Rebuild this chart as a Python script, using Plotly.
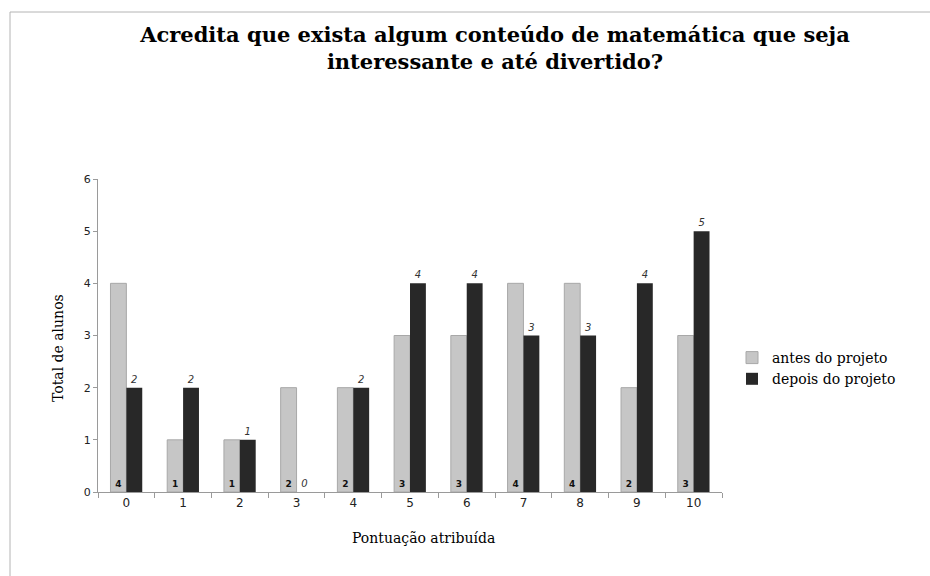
import plotly.graph_objects as go

# Pontuação (0–10) e número de alunos antes/depois do projeto
categorias = ["0", "1", "2", "3", "4", "5", "6", "7", "8", "9", "10"]
antes = [4, 1, 1, 2, 2, 3, 3, 4, 4, 2, 3]
depois = [2, 2, 1, 0, 2, 4, 4, 3, 3, 4, 5]
y_ticks = [0, 1, 2, 3, 4, 5, 6]

W, H = 930, 576
L, R, T, B = 98, 208, 179, 84

fig = go.Figure()

fig.add_trace(go.Bar(
    name="antes do projeto",
    x=categorias, y=antes,
    marker=dict(color="#c6c6c6", line=dict(color="#a8a8a8", width=1)),
    text=[str(v) for v in antes],
    textposition="inside", insidetextanchor="start",
    textfont=dict(family="DejaVu Sans", size=9, color="#111111", weight="bold"),
    textangle=0,
))
fig.add_trace(go.Bar(
    name="depois do projeto",
    x=categorias, y=depois,
    marker=dict(color="#282828", line=dict(width=0)),
    text=[str(v) for v in depois],
    textposition="outside",
    textfont=dict(family="DejaVu Sans", size=10, color="#333333", style="italic"),
    textangle=0, cliponaxis=False,
))

def px_x(px):
    return (px - L) / (W - L - R)

def px_y(py):
    return (H - B - py) / (H - T - B)

fig.update_layout(
    width=W, height=H,
    margin=dict(l=L, r=R, t=T, b=B),
    paper_bgcolor="white", plot_bgcolor="white",
    barmode="group", bargap=0.44, bargroupgap=0.0,
    title=dict(
        text="Acredita que exista algum conteúdo de matemática que seja<br>interessante e até divertido?",
        x=495 / W, xanchor="center", xref="container",
        y=1 - 42 / H, yanchor="top",
        font=dict(family="DejaVu Serif", size=21, color="#000000", weight="bold"),
    ),
    legend=dict(
        x=px_x(732), y=px_y(342), xanchor="left", yanchor="top",
        font=dict(family="DejaVu Serif", size=14, color="#000000"),
        itemwidth=30, tracegroupgap=0,
        bgcolor="rgba(0,0,0,0)",
    ),
    xaxis=dict(
        type="category",
        showline=True, linecolor="#9a9a9a", linewidth=1,
        ticks="outside", tickson="boundaries", ticklen=5, tickcolor="#9a9a9a",
        tickfont=dict(family="DejaVu Sans", size=12, color="#222222"),
        showgrid=False, zeroline=False,
    ),
    yaxis=dict(
        range=[0, 6], tickvals=y_ticks,
        showline=True, linecolor="#9a9a9a", linewidth=1,
        ticks="outside", ticklen=4, tickcolor="#9a9a9a",
        tickfont=dict(family="DejaVu Sans", size=11, color="#222222"),
        showgrid=False, zeroline=False,
    ),
    annotations=[
        dict(text="Total de alunos", textangle=-90,
             x=px_x(58), y=px_y(348), xref="paper", yref="paper",
             xanchor="center", yanchor="middle", showarrow=False,
             font=dict(family="DejaVu Serif", size=14, color="#000000")),
        dict(text="Pontuação atribuída",
             x=px_x(423), y=px_y(538), xref="paper", yref="paper",
             xanchor="center", yanchor="middle", showarrow=False,
             font=dict(family="DejaVu Serif", size=14, color="#000000")),
    ],
    shapes=[
        dict(type="line", xref="paper", yref="paper",
             x0=px_x(10), y0=px_y(12), x1=px_x(10), y1=px_y(600),
             line=dict(color="#b4b4b4", width=1)),
        dict(type="line", xref="paper", yref="paper",
             x0=px_x(10), y0=px_y(12), x1=px_x(960), y1=px_y(12),
             line=dict(color="#b4b4b4", width=1)),
    ],
)

fig.write_html("out.html")
